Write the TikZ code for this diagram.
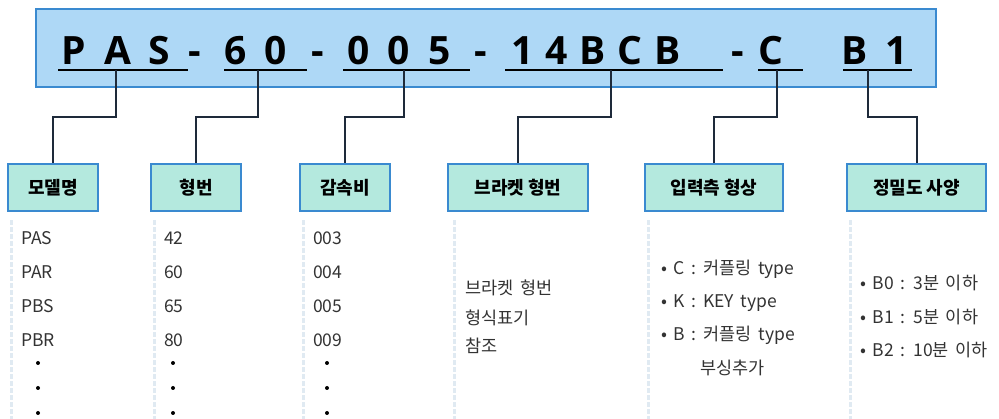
\documentclass[tikz,border=0pt]{standalone}
\usepackage{fontspec}
\setmainfont{Noto Sans CJK KR}
\newfontfamily\itemfont{Noto Sans CJK KR}[WordSpace=1.7]
\newfontfamily\codefont{Open Sans}
\usepackage{tikz}
\usetikzlibrary{positioning}
\definecolor{barblue}{RGB}{174,216,246}
\definecolor{edgeblue}{RGB}{58,138,208}
\definecolor{partgreen}{RGB}{180,233,222}
\definecolor{tapnavy}{RGB}{30,42,58}
\definecolor{guidegray}{RGB}{224,234,242}
\tikzstyle{codebar}=[draw=edgeblue,fill=barblue,line width=1.2pt,minimum width=900pt,minimum height=78pt]
\tikzstyle{codetxt}=[anchor=base,inner sep=0pt,font=\codefont\bfseries\fontsize{39}{39}\selectfont]
\tikzstyle{part}=[draw=edgeblue,fill=partgreen,line width=1.5pt,minimum height=47pt,font=\bfseries\fontsize{18}{18}\selectfont]
\tikzstyle{uline}=[draw,line width=2.6pt,black]
\tikzstyle{tap}=[draw,line width=2pt,tapnavy]
\tikzstyle{guide}=[draw=guidegray,line width=3pt,dash pattern=on 5pt off 2pt]
\tikzstyle{item}=[anchor=base west,inner sep=0pt,text=black!80,font=\itemfont\fontsize{17.5}{17.5}\selectfont]
\newcommand{\gp}{\hspace{18pt}}
\newcommand{\gq}{\hspace{12pt}}

\begin{document}
\begin{tikzpicture}[x=1pt,y=-1pt]
\useasboundingbox (0,0) rectangle (999,419);

	\node[codebar] (bar) at (486,48) {};

	\node[codetxt] (pas) at (116,65) {P\gp A\gp S};
	\node[codetxt] (d1) at (195,65) {-};
	\node[codetxt] (siz) at (256,65) {6\gp 0};
	\node[codetxt] (d2) at (318,65) {-};
	\node[codetxt] (rto) at (399,65) {0\gp 0\gp 5};
	\node[codetxt] (d3) at (481,65) {-};
	\node[codetxt] (brc) at (596,65) {1\gq 4\gq B\gq C\gq B};
	\node[codetxt] (d4) at (738,65) {-};
	\node[codetxt] (shf) at (771,65) {C};
	\node[codetxt] (acc) at (875,65) {B\gp 1};

	\draw[uline] (58,70) -- (188,70);
	\draw[uline] (224,70) -- (307,70);
	\draw[uline] (343,70) -- (470,70);
	\draw[uline] (505,70) -- (723,70);
	\draw[uline] (758,70) -- (803,70);
	\draw[uline] (843,70) -- (912,70);

	\coordinate (pastap) at (116,70);
	\coordinate (siztap) at (258,70);
	\coordinate (rtotap) at (404,70);
	\coordinate (brctap) at (611,70);
	\coordinate (shftap) at (777,70);
	\coordinate (acctap) at (868,70);

	\node[part,minimum width=90pt] (mdl) at (53,187.5) {모델명};
	\node[part,minimum width=90pt] (typ) at (196,187.5) {형번};
	\node[part,minimum width=90pt] (rat) at (345,187.5) {감속비};
	\node[part,minimum width=140pt] (brk) at (518,187.5) {브라켓 형번};
	\node[part,minimum width=138pt] (inp) at (714,187.5) {입력측 형상};
	\node[part,minimum width=139pt] (prc) at (916.5,187.5) {정밀도 사양};

	\path[tap] (pastap) -- ++(0,47) -| (mdl.north);
	\path[tap] (siztap) -- ++(0,47) -| (typ.north);
	\path[tap] (rtotap) -- ++(0,47) -| (rat.north);
	\path[tap] (brctap) -- ++(0,47) -| (brk.north);
	\path[tap] (shftap) -- ++(0,47) -| (inp.north);
	\path[tap] (acctap) -- ++(0,47) -| (prc.north);

	\draw[guide] (11,220) -- (11,419);
	\draw[guide] (154,220) -- (154,419);
	\draw[guide] (303,220) -- (303,419);
	\draw[guide] (454,220) -- (454,419);
	\draw[guide] (648,220) -- (648,419);
	\draw[guide] (850,220) -- (850,419);

	\node[item] (m1) at (21,245) {PAS};
	\node[item] (m2) at (21,279) {PAR};
	\node[item] (m3) at (21,313) {PBS};
	\node[item] (m4) at (21,347) {PBR};

	\node[item] (t1) at (164,245) {42};
	\node[item] (t2) at (164,279) {60};
	\node[item] (t3) at (164,313) {65};
	\node[item] (t4) at (164,347) {80};

	\node[item] (r1) at (313,245) {003};
	\node[item] (r2) at (313,279) {004};
	\node[item] (r3) at (313,313) {005};
	\node[item] (r4) at (313,347) {009};

	\fill (38,363) circle (2pt);
	\fill (38,388) circle (2pt);
	\fill (38,413) circle (2pt);
	\fill (173,363) circle (2pt);
	\fill (173,388) circle (2pt);
	\fill (173,413) circle (2pt);
	\fill (327,363) circle (2pt);
	\fill (327,388) circle (2pt);
	\fill (327,413) circle (2pt);

	\node[item] (b1) at (465,295) {브라켓 형번};
	\node[item] (b2) at (465,325) {형식표기};
	\node[item] (b3) at (465,353) {참조};

	\node[item] (i1) at (661,275) {• C : 커플링 type};
	\node[item] (i2) at (661,308) {• K : KEY type};
	\node[item] (i3) at (661,341) {• B : 커플링 type};
	\node[item] (i4) at (700,375) {부싱추가};

	\node[item] (p1) at (860,290) {• B0 : 3분 이하};
	\node[item] (p2) at (860,324) {• B1 : 5분 이하};
	\node[item] (p3) at (860,357) {• B2 : 10분 이하};
\end{tikzpicture}
\end{document}
